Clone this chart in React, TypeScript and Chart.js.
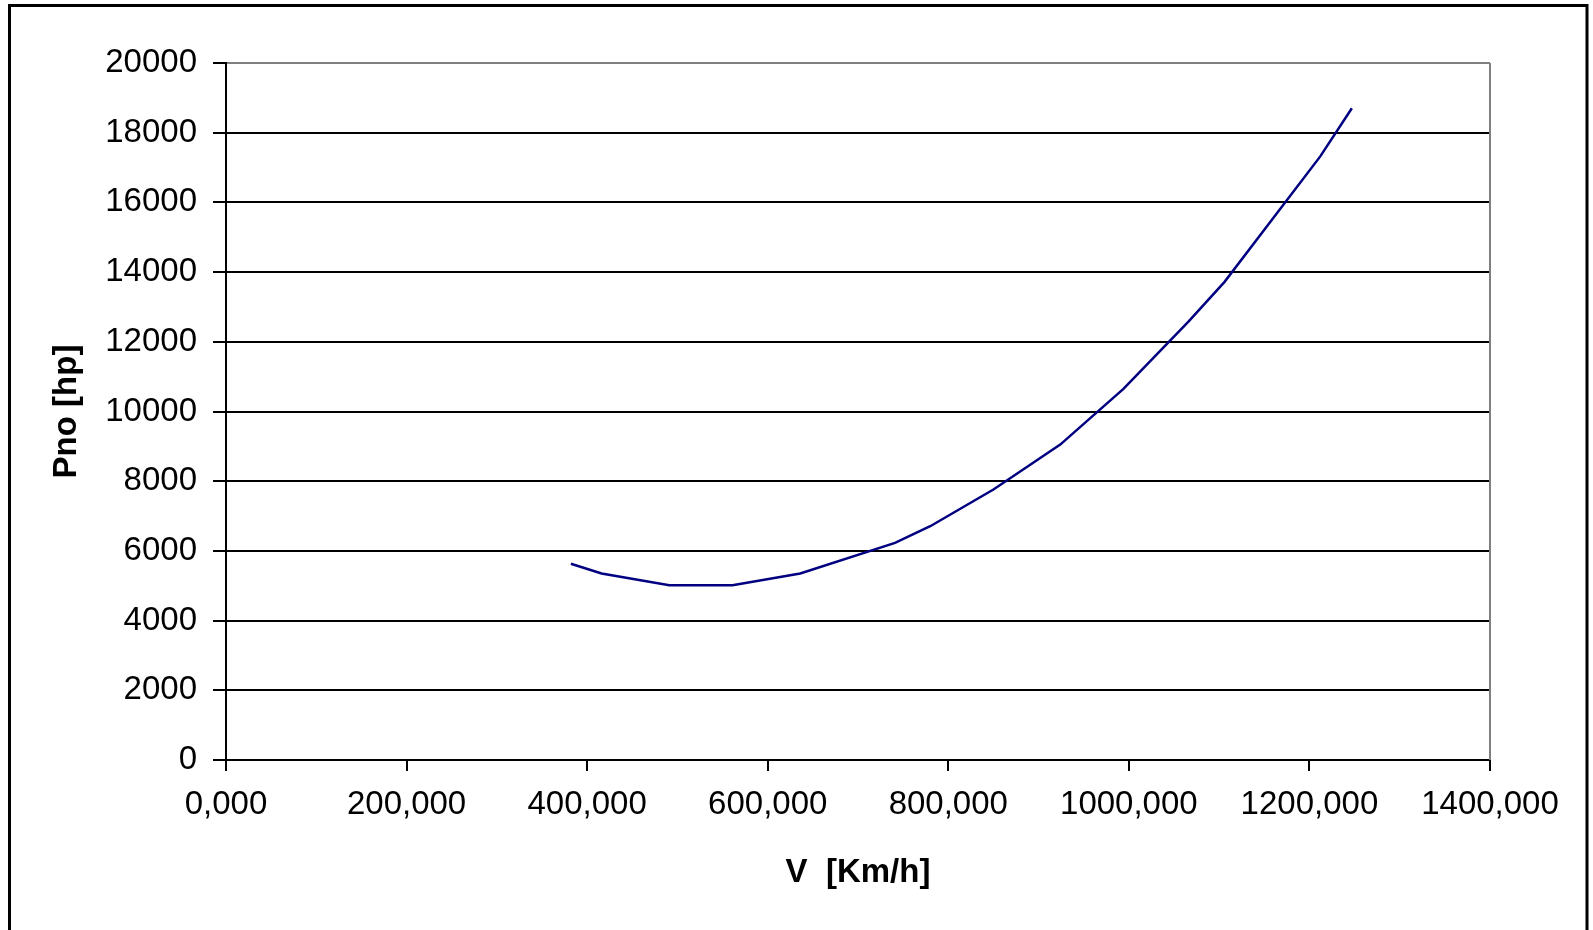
import React, { useEffect, useRef } from "react";
import { Chart, registerables } from "chart.js";

Chart.register(...registerables);

const speeds = [382, 416, 491, 527, 561, 636, 741, 780, 850, 924, 994, 1066, 1106, 1212, 1247];
const powers = [5630, 5350, 5017, 5017, 5017, 5350, 6230, 6708, 7760, 9050, 10650, 12580, 13720, 17320, 18700];
const xTitle = "V  [Km/h]";
const yTitle = "Pno [hp]";

const FONT = "'Liberation Sans', Arial, sans-serif";

const framePlugin = {
  id: "frame",
  beforeDatasetsDraw(chart: any) {
    const { ctx, chartArea } = chart;
    ctx.save();
    ctx.strokeStyle = "#808080";
    ctx.lineWidth = 2;
    ctx.beginPath();
    ctx.moveTo(chartArea.right, chartArea.top);
    ctx.lineTo(chartArea.right, chartArea.bottom);
    ctx.stroke();
    ctx.restore();
  },
  afterDraw(chart: any) {
    const { ctx } = chart;
    ctx.save();
    ctx.strokeStyle = "#000";
    ctx.lineWidth = 3;
    ctx.strokeRect(9.5, 5.5, 1577.5, 940);
    ctx.restore();
  },
};

export default function App() {
  const ref = useRef<HTMLCanvasElement>(null);
  useEffect(() => {
    if (!ref.current) return;
    const chart = new Chart(ref.current, {
      type: "line",
      data: {
        datasets: [
          {
            data: speeds.map((v, i) => ({ x: v, y: powers[i] })),
            borderColor: "#000080",
            borderWidth: 2.5,
            pointRadius: 0,
            tension: 0,
            fill: false,
          },
        ],
      },
      options: {
        animation: false,
        responsive: false,
        devicePixelRatio: 1,
        layout: { padding: { left: 0, top: 63, right: 103, bottom: 0 } },
        plugins: { legend: { display: false }, tooltip: { enabled: false } },
        scales: {
          x: {
            type: "linear",
            min: 0,
            max: 1400,
            afterFit: (s: any) => {
              s.height = 170;
            },
            ticks: {
              stepSize: 200,
              color: "#000",
              font: { family: FONT, size: 33 },
              padding: 14,
              maxRotation: 0,
              callback: (v: any) => Number(v).toFixed(3).replace(".", ","),
            },
            grid: {
              drawOnChartArea: false,
              drawTicks: true,
              tickLength: 11,
              tickColor: "#000",
              tickWidth: 2,
              color: "#000",
              lineWidth: 2,
            },
            border: { display: true, color: "#000", width: 2 },
            title: {
              display: true,
              text: xTitle,
              color: "#000",
              font: { family: FONT, size: 33, weight: "bold" },
              padding: { top: 0, bottom: 37 },
            },
          },
          y: {
            type: "linear",
            min: 0,
            max: 20000,
            afterFit: (s: any) => {
              s.width = 226;
            },
            ticks: {
              stepSize: 2000,
              color: "#000",
              font: { family: FONT, size: 33 },
              padding: 16,
              callback: (v: any) => String(v),
            },
            grid: {
              drawTicks: true,
              tickLength: 13,
              tickColor: "#000",
              tickWidth: 2,
              color: (c: any) => (c.tick && c.tick.value === 20000 ? "#808080" : "#000"),
              lineWidth: 2,
            },
            border: { display: true, color: "#000", width: 2 },
            title: {
              display: true,
              text: yTitle,
              color: "#000",
              font: { family: FONT, size: 33, weight: "bold" },
              padding: { top: 47, bottom: 0 },
            },
          },
        },
      },
      plugins: [framePlugin],
    });
    return () => chart.destroy();
  }, []);
  return (
    <canvas
      ref={ref}
      width={1593}
      height={930}
      style={{ position: "absolute", left: 0, top: 0, width: 1593, height: 930, background: "#fff" }}
    />
  );
}
